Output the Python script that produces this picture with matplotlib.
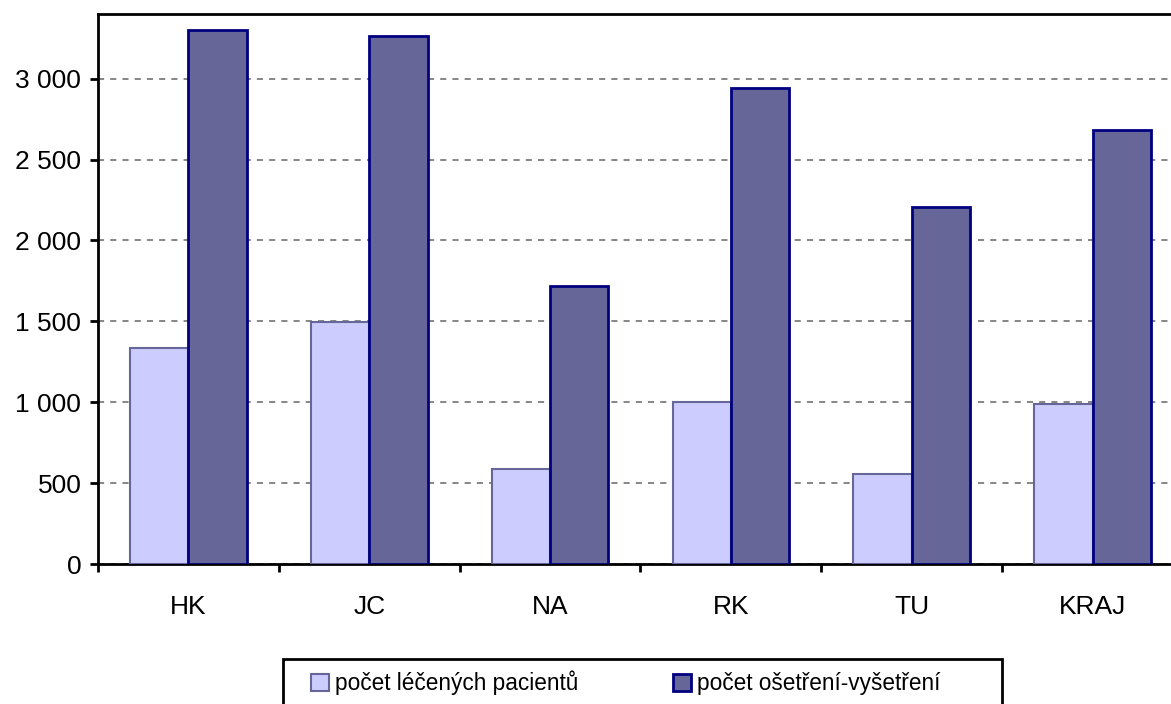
import numpy as np
import matplotlib
matplotlib.use('Agg')
import matplotlib.pyplot as plt
from matplotlib.patches import Rectangle
from matplotlib.ticker import FuncFormatter, FixedLocator

# data
categories = ['HK', 'JC', 'NA', 'RK', 'TU', 'KRAJ']
pacienti = [1336, 1497, 588, 1000, 557, 988]
osetreni = [3303, 3266, 1721, 2944, 2210, 2683]
labels = ['počet léčených pacientů', 'počet ošetření-vyšetření']

plt.rcParams['font.family'] = ['Liberation Sans', 'DejaVu Sans']
plt.rcParams['font.size'] = 19

W, H = 1171, 704
fig = plt.figure(figsize=(W / 100, H / 100), dpi=100)
# axes runs a bit past the right edge, like the cropped original
ax = fig.add_axes([98 / W, 1 - 564 / H, 1085 / W, 550 / H])

x = np.arange(len(categories))
bw = 0.323
ax.bar(x - bw / 2, pacienti, bw, color='#ccccff', edgecolor='#666699',
       linewidth=1.5, label=labels[0], zorder=3)
ax.bar(x + bw / 2, osetreni, bw, color='#666699', edgecolor='#000080',
       linewidth=2, label=labels[1], zorder=3)

ax.set_xlim(-0.5, len(categories) - 0.5)
ax.set_ylim(0, 3400)
ax.set_yticks(np.arange(0, 3001, 500))
ax.yaxis.set_major_formatter(FuncFormatter(lambda v, p: f'{int(v):,}'.replace(',', ' ')))
ax.yaxis.grid(True, color='#666666', linestyle=(0, (4, 4)), linewidth=1.1, zorder=0)
ax.set_axisbelow(True)

ax.set_xticks(x)
ax.set_xticklabels(categories)
ax.xaxis.set_minor_locator(FixedLocator(np.arange(-0.5, len(categories), 1.0)))
ax.tick_params(axis='x', which='major', length=0, pad=22)
ax.tick_params(axis='x', which='minor', length=6, width=2, direction='out')
ax.tick_params(axis='y', length=6, width=2, direction='out', pad=6)

for s in ax.spines.values():
    s.set_linewidth(2)
    s.set_color('black')

# legend box is cut off by the bottom edge in the original, draw it by hand
fig.patches.append(Rectangle((283 / W, -0.1), (1002 - 283) / W, 1 - 659 / H + 0.1,
                             transform=fig.transFigure, fill=False,
                             edgecolor='black', linewidth=2))
fig.legend(loc='center left', bbox_to_anchor=(311 / W, 1 - 683 / H),
           ncol=2, frameon=False, fontsize=16.3, borderpad=0, borderaxespad=0,
           handlelength=0.8, handleheight=0.8, handletextpad=0.25,
           columnspacing=4.2)

fig.savefig('out.png', dpi=100)
